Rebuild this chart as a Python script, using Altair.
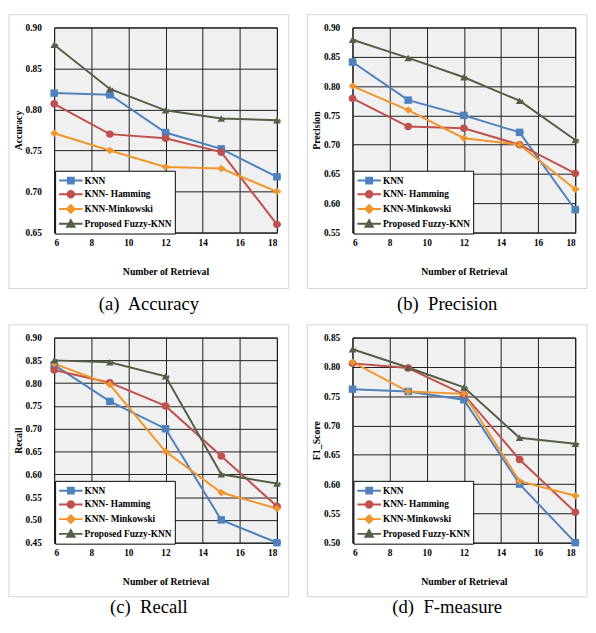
import altair as alt
import pandas as pd

# ---------------- data ----------------
x_vals = [6, 9, 12, 15, 18]
x_ticks = [6, 8, 10, 12, 14, 16, 18]

acc_knn = [0.820, 0.818, 0.772, 0.752, 0.718]
acc_ham = [0.807, 0.770, 0.765, 0.748, 0.660]
acc_mink = [0.771, 0.750, 0.730, 0.728, 0.700]
acc_fuzzy = [0.879, 0.825, 0.799, 0.789, 0.787]

prec_knn = [0.841, 0.776, 0.750, 0.721, 0.589]
prec_ham = [0.779, 0.731, 0.728, 0.700, 0.651]
prec_mink = [0.800, 0.759, 0.711, 0.700, 0.624]
prec_fuzzy = [0.879, 0.848, 0.815, 0.775, 0.708]

rec_knn = [0.840, 0.760, 0.700, 0.500, 0.450]
rec_ham = [0.829, 0.801, 0.750, 0.640, 0.530]
rec_mink = [0.843, 0.797, 0.650, 0.560, 0.525]
rec_fuzzy = [0.850, 0.846, 0.815, 0.600, 0.580]

f1_knn = [0.762, 0.758, 0.744, 0.600, 0.500]
f1_ham = [0.806, 0.798, 0.753, 0.642, 0.552]
f1_mink = [0.808, 0.758, 0.754, 0.605, 0.580]
f1_fuzzy = [0.830, 0.799, 0.765, 0.679, 0.669]

labels_std = ["KNN", "KNN- Hamming", "KNN-Minkowski", "Proposed Fuzzy-KNN"]
labels_rec = ["KNN", "KNN- Hamming", "KNN- Minkowski", "Proposed Fuzzy-KNN"]

acc_ticks = [0.65, 0.70, 0.75, 0.80, 0.85, 0.90]
prec_ticks = [0.55, 0.60, 0.65, 0.70, 0.75, 0.80, 0.85, 0.90]
rec_ticks = [0.45, 0.50, 0.55, 0.60, 0.65, 0.70, 0.75, 0.80, 0.85, 0.90]
f1_ticks = [0.50, 0.55, 0.60, 0.65, 0.70, 0.75, 0.80, 0.85]

# ---------------- style ----------------
colors = ["#4f81bd", "#c0504d", "#f0962b", "#555e47"]
shapes = ["square", "circle", "diamond", "triangle-up"]
legend_paths = [
    "M-1,0H3M0.5,-0.5H1.5V0.5H0.5Z",
    "M-1,0H3M1.55,0A0.55,0.55 0 1,1 0.45,0A0.55,0.55 0 1,1 1.55,0Z",
    "M-1,0H3M1,-0.65L1.65,0L1,0.65L0.35,0Z",
    "M-1,0H3M1,-0.6L1.62,0.5L0.38,0.5Z",
]
SERIF = "Liberation Serif"
W, H = 227, 209


def panel(series_vals, labels, ytitle, ticks, caption, title_offset, frame_bottom):
    rows = []
    for i, vals in enumerate(series_vals):
        for xv, yv in zip(x_vals, vals):
            rows.append({"x": xv, "v": yv, "series": labels[i],
                         "col": colors[i], "shp": shapes[i]})
    df = pd.DataFrame(rows)

    xenc = alt.X("x:Q", scale=alt.Scale(domain=[6, 18], nice=False),
                 axis=alt.Axis(values=x_ticks, title="Number of Retrieval"))
    yenc = alt.Y("v:Q", scale=alt.Scale(domain=[ticks[0], ticks[-1]], nice=False, zero=False),
                 axis=alt.Axis(values=ticks, format=".2f", title=ytitle))

    leg = alt.Legend(orient="none", legendX=1, legendY=146, title=None,
                     fillColor="white", strokeColor="black", padding=3,
                     labelFont=SERIF, labelFontSize=9.5, labelFontWeight="bold",
                     labelColor="black", symbolSize=144, symbolStrokeWidth=2,
                     rowPadding=-2, labelOffset=13, labelLimit=200)

    frame = alt.Chart(pd.DataFrame({"a": [0]})).mark_rect(
        fill=None, stroke="#d4d4d4", strokeWidth=1
    ).encode(x=alt.value(-46), x2=alt.value(W + 12),
             y=alt.value(-13), y2=alt.value(H + frame_bottom))

    lines = alt.Chart(df).mark_line(strokeWidth=2).encode(
        x=xenc, y=yenc,
        color=alt.Color("series:N", scale=alt.Scale(domain=labels, range=colors), legend=leg),
        shape=alt.Shape("series:N", scale=alt.Scale(domain=labels, range=legend_paths), legend=leg),
        order=alt.Order("x:Q"),
    )
    points = alt.Chart(df).mark_point(filled=True, size=58, opacity=1).encode(
        x=xenc, y=yenc,
        color=alt.Color("col:N", scale=None),
        shape=alt.Shape("shp:N", scale=None),
    )
    return alt.layer(frame, lines, points).resolve_scale(
        color="independent", shape="independent"
    ).properties(
        width=W, height=H,
        title=alt.TitleParams(caption, orient="bottom", anchor="middle", frame="bounds",
                              font=SERIF, fontSize=19, fontWeight="normal",
                              color="black", offset=title_offset, baseline="top"),
    )


pa = panel([acc_knn, acc_ham, acc_mink, acc_fuzzy], labels_std, "Accuracy",
           acc_ticks, "(a)\u00a0 Accuracy", 6, 57)
pb = panel([prec_knn, prec_ham, prec_mink, prec_fuzzy], labels_std, "Precision",
           prec_ticks, "(b)\u00a0 Precision", 6, 57)
pc = panel([rec_knn, rec_ham, rec_mink, rec_fuzzy], labels_rec, "Recall",
           rec_ticks, "(c)\u00a0 Recall", 1, 55)
pd_ = panel([f1_knn, f1_ham, f1_mink, f1_fuzzy], labels_std, "F1_Score",
            f1_ticks, "(d)\u00a0 F-measure", 1, 55)

row1 = alt.hconcat(pa, pb, spacing=17)
row2 = alt.hconcat(pc, pd_, spacing=17)
chart = alt.vconcat(row1, row2, spacing=10).configure(
    padding=0, background="white"
).configure_view(
    fill="#f0f0f0", stroke="black", strokeWidth=1
).configure_axis(
    grid=True, gridColor="#1e1e1e", gridWidth=1, gridOpacity=1,
    domain=False, ticks=False, tickSize=0,
    labelFont=SERIF, labelFontSize=9.5, labelFontWeight="bold", labelColor="black",
    titleFont=SERIF, titleFontSize=10, titleFontWeight="bold", titleColor="black",
).configure_axisX(
    labelPadding=5, titlePadding=20,
).configure_axisY(
    labelPadding=13, titlePadding=2,
)

chart.save("out.html", embed_options={"renderer": "svg", "actions": False})
